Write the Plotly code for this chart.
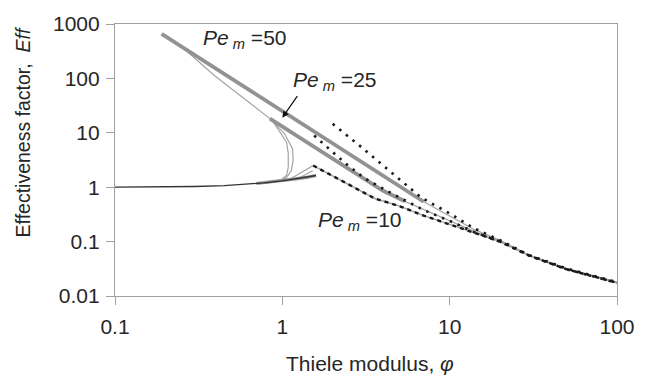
import plotly.graph_objects as go
import math

# ---------------- data ----------------
# Pe_m = 50 : thick upper branch and its continuation
phi_pe50_thick = [0.19, 0.5, 1.0, 2.0, 4.0, 7.0]
eff_pe50_thick = [660, 98, 25, 6.4, 1.63, 0.54]
phi_pe50_tail = [7.0, 10, 14, 20, 30, 50, 70, 100]
eff_pe50_tail = [0.54, 0.30, 0.167, 0.105, 0.056, 0.032, 0.024, 0.018]

# Pe_m = 25 : thick upper branch and its continuation
phi_pe25_thick = [0.843, 1.5, 2.5, 4.0, 5.4]
eff_pe25_thick = [18.2, 5.8, 2.1, 0.86, 0.55]
phi_pe25_tail = [5.4, 7.0, 10, 14, 20, 30, 50, 70, 100]
eff_pe25_tail = [0.55, 0.39, 0.245, 0.154, 0.10, 0.055, 0.031, 0.0235, 0.0175]

# Pe_m = 10 : upper branch (dashed approximation drawn over it)
phi_pe10 = [1.53, 2.0, 3.0, 3.57, 5.0, 7.0, 10, 14, 20, 30, 50, 70, 100]
eff_pe10 = [2.5, 1.6, 0.83, 0.62, 0.45, 0.30, 0.207, 0.147, 0.10, 0.055, 0.031, 0.0235, 0.0175]

# lower branch (common)
phi_low = [0.1, 0.2, 0.3, 0.45, 0.6, 0.78, 1.0, 1.2, 1.4, 1.59]
eff_low = [1.0, 1.01, 1.03, 1.07, 1.12, 1.2, 1.31, 1.42, 1.52, 1.64]
phi_low_thick = [0.7, 0.85, 1.0, 1.2, 1.4, 1.59]
eff_low_thick = [1.17, 1.24, 1.31, 1.42, 1.52, 1.64]

# middle (unstable) branches, thin lines
phi_mid1 = [0.191, 0.275, 0.394, 0.618, 0.843, 1.03, 1.15, 1.16, 1.13, 1.06, 0.93, 0.8]
eff_mid1 = [660, 296, 112, 39, 18.2, 9.7, 5.1, 3.1, 2.0, 1.5, 1.27, 1.2]
phi_mid2 = [0.843, 0.885, 1.06, 1.085, 1.085, 1.06, 0.97]
eff_mid2 = [18.2, 15.6, 6.7, 4.15, 2.33, 1.64, 1.33]
phi_mid3 = [1.1, 1.3, 1.49, 1.53]
eff_mid3 = [1.38, 1.86, 2.45, 2.5]
phi_mid4 = [1.25, 1.52]
eff_mid4 = [1.46, 2.0]

# asymptotic approximations (dotted)
phi_asym50 = [2.0, 3.0, 4.68, 6.73, 10, 14, 20, 30, 50, 70, 100]
eff_asym50 = [14.6, 5.3, 1.67, 0.65, 0.33, 0.175, 0.106, 0.056, 0.032, 0.024, 0.018]
phi_asym25 = [1.55, 1.95, 2.38, 3.12, 4.49, 7.0, 10, 14, 20, 30, 50, 70, 100]
eff_asym25 = [8.9, 4.7, 2.75, 1.44, 0.77, 0.38, 0.24, 0.15, 0.10, 0.055, 0.031, 0.0235, 0.0175]

x_ticks = [0.1, 1, 10, 100]
x_tick_text = ["0.1", "1", "10", "100"]
y_ticks = [0.01, 0.1, 1, 10, 100, 1000]
y_tick_text = ["0.01", "0.1", "1", "10", "100", "1000"]

# ---------------- figure ----------------
FONT = "Liberation Sans, Arial, sans-serif"
THICK = "#929292"
THIN = "#a3a3a3"
BLACK = "#1a1a1a"
TXT = "#262626"

fig = go.Figure()

def add(x, y, color, width, dash="solid"):
    fig.add_trace(go.Scatter(x=x, y=y, mode="lines",
                             line=dict(color=color, width=width, dash=dash),
                             showlegend=False, hoverinfo="skip"))

# thin lines
add(phi_mid1, eff_mid1, THIN, 1.2)
add(phi_mid2, eff_mid2, THIN, 1.2)
add(phi_mid3, eff_mid3, THIN, 1.2)
add(phi_mid4, eff_mid4, THIN, 1.2)
add(phi_pe50_tail, eff_pe50_tail, THIN, 1.3)
add(phi_pe25_tail, eff_pe25_tail, THIN, 1.3)
add(phi_pe10, eff_pe10, THIN, 1.5)
# thick lines
add(phi_pe50_thick, eff_pe50_thick, THICK, 3.8)
add(phi_pe25_thick, eff_pe25_thick, THICK, 3.8)
add(phi_low_thick, eff_low_thick, THICK, 3.2)
add(phi_low, eff_low, "#333333", 1.3)
# approximations
add(phi_asym50, eff_asym50, BLACK, 2.6, "2.5px,6px")
add(phi_asym25, eff_asym25, BLACK, 2.6, "2.5px,6px")
add(phi_pe10, eff_pe10, BLACK, 2.4, "4px,4px")

L, R, T, B = 115, 20, 23, 88
W, H = 647, 384
pw, ph = W - L - R, H - T - B

def px(xpix):
    return (xpix - L) / pw

def py(ypix):
    return (H - B - ypix) / ph

axis_common = dict(type="log", showgrid=False, zeroline=False, showline=True,
                   linecolor="#a0a0a0", linewidth=1.2, mirror=True,
                   ticks="outside", ticklen=8, tickcolor="#a0a0a0", tickwidth=1.2,
                   tickfont=dict(family=FONT, size=21, color=TXT))

fig.update_layout(
    width=W, height=H,
    margin=dict(l=L, r=R, t=T, b=B),
    paper_bgcolor="white", plot_bgcolor="white",
    xaxis=dict(range=[-1, 2], tickvals=x_ticks, ticktext=x_tick_text,
               ticklabelstandoff=4, **axis_common),
    yaxis=dict(range=[-2, 3], tickvals=y_ticks, ticktext=y_tick_text,
               ticklabelstandoff=2, **axis_common),
    font=dict(family=FONT, color=TXT),
)

lab = dict(family=FONT, size=21, color=TXT)
annots = [
    dict(text="<i>Pe</i><sub> <i>m</i></sub> =50", x=px(203), y=py(38), xanchor="left", yanchor="middle", font=lab),
    dict(text="<i>Pe</i><sub> <i>m</i></sub> =25", x=px(295), y=py(80), xanchor="left", yanchor="middle", font=lab),
    dict(text="<i>Pe</i><sub> <i>m</i></sub> =10", x=px(320), y=py(221), xanchor="left", yanchor="middle", font=lab),
    dict(text="Thiele modulus, <i>φ</i>", x=px(375), y=py(364), xanchor="center", yanchor="middle",
         font=dict(family=FONT, size=21, color=TXT)),
    dict(text="Effectiveness factor,  <i>Eff</i>", x=px(21), y=py(131), xanchor="center", yanchor="middle",
         textangle=-90, font=dict(family=FONT, size=19.5, color=TXT)),
]
for a in annots:
    fig.add_annotation(xref="paper", yref="paper", showarrow=False, **a)

# arrow pointing to the Pe_m = 25 curve
fig.add_annotation(xref="x", yref="y", x=math.log10(1.0), y=math.log10(19), ax=16, ay=-23,
                   text="", showarrow=True, arrowhead=2, arrowsize=1, arrowwidth=1.3,
                   arrowcolor="#111111")

fig.write_html("out.html")
